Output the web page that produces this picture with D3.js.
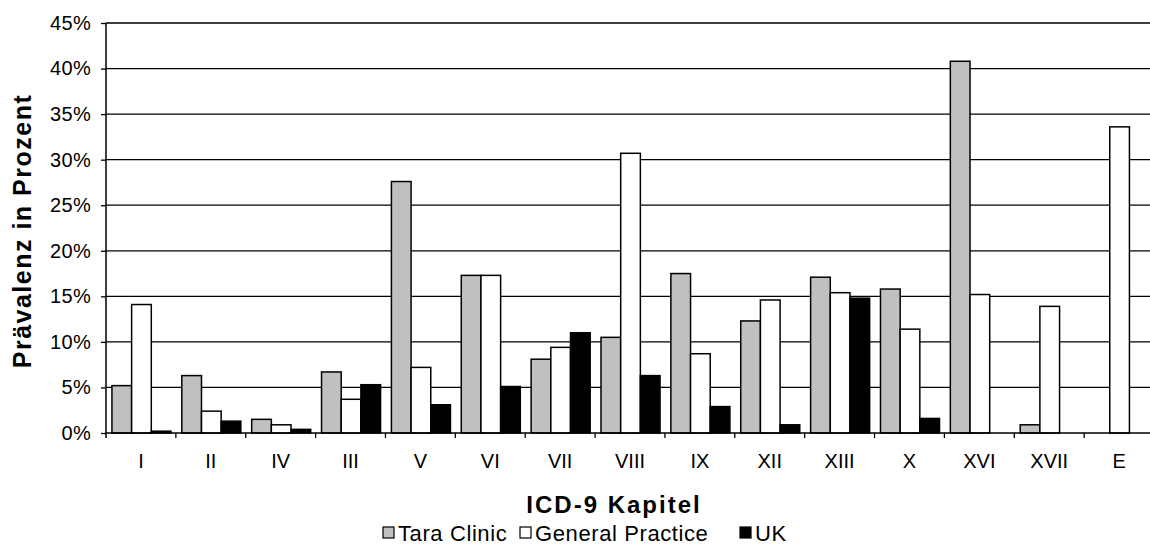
<!DOCTYPE html>
<html>
<head>
<meta charset="utf-8">
<script src="https://cdn.jsdelivr.net/npm/d3@7"></script>
<style>
  body { margin: 0; background: #fff; }
  svg text { font-family: "Liberation Sans", Arial, sans-serif; fill: #000; }
</style>
</head>
<body>
<div id="chart"></div>
<script>
// ICD-9 chapters in the order shown
var chapters = ["I", "II", "IV", "III", "V", "VI", "VII", "VIII", "IX", "XII", "XIII", "X", "XVI", "XVII", "E"];
// prevalence in percent
var taraClinic = [5.2, 6.3, 1.5, 6.7, 27.6, 17.3, 8.1, 10.5, 17.5, 12.3, 17.1, 15.8, 40.8, 0.9, 0];
var generalPractice = [14.1, 2.4, 0.9, 3.7, 7.2, 17.3, 9.4, 30.7, 8.7, 14.6, 15.4, 11.4, 15.2, 13.9, 33.6];
var uk = [0.2, 1.3, 0.4, 5.3, 3.1, 5.1, 11.0, 6.3, 2.9, 0.9, 14.8, 1.6, 0, 0, 0];
var seriesNames = ["Tara Clinic", "General Practice", "UK"];
var seriesFill = ["#c0c0c0", "#ffffff", "#000000"];
var yTicks = [0, 5, 10, 15, 20, 25, 30, 35, 40, 45];

function draw() {
    var w = 1150, h = 546;
    var left = 106, right = 1154, top = 23, bottom = 433;

    var svg = d3.select("#chart").append("svg")
                .attr("width", w)
                .attr("height", h);

    var x = d3.scaleBand().domain(chapters).range([left, right]).padding(0);
    var bw = x.bandwidth();
    var x1 = d3.scaleBand().domain(seriesNames).range([bw * 0.085, bw * 0.93]).padding(0);
    var y = d3.scaleLinear().domain([0, 45]).range([bottom, top]);

    // horizontal gridlines
    svg.append("g").selectAll("line")
       .data(yTicks.filter(function(d) { return d > 0; }))
       .enter().append("line")
       .attr("x1", left).attr("x2", right)
       .attr("y1", function(d) { return y(d); })
       .attr("y2", function(d) { return y(d); })
       .attr("stroke", "#000").attr("stroke-width", 1.3);

    // bars
    var rows = chapters.map(function(c, i) {
        return { chapter: c, values: [taraClinic[i], generalPractice[i], uk[i]] };
    });
    var groups = svg.append("g").selectAll("g")
        .data(rows).enter().append("g")
        .attr("transform", function(d) { return "translate(" + x(d.chapter) + ",0)"; });
    groups.selectAll("rect")
        .data(function(d) {
            return d.values
                .map(function(v, j) { return { name: seriesNames[j], value: v, j: j }; })
                .filter(function(e) { return e.value > 0; });
        })
        .enter().append("rect")
        .attr("x", function(d) { return x1(d.name); })
        .attr("width", x1.bandwidth())
        .attr("y", function(d) { return y(d.value); })
        .attr("height", function(d) { return bottom - y(d.value); })
        .attr("fill", function(d) { return seriesFill[d.j]; })
        .attr("stroke", "#000").attr("stroke-width", 1.5);

    // y axis
    var yAxis = svg.append("g")
        .attr("transform", "translate(" + left + ",0)")
        .call(d3.axisLeft(y).tickValues(yTicks).tickSize(5).tickPadding(10)
              .tickFormat(function(d) { return d + "%"; }));
    yAxis.select(".domain").remove();
    yAxis.selectAll("line").attr("stroke", "#000").attr("stroke-width", 1.3);
    yAxis.selectAll("text").style("font-size", "20px").style("letter-spacing", "0.3px");
    svg.append("line")
       .attr("x1", left).attr("x2", left)
       .attr("y1", top).attr("y2", bottom + 5)
       .attr("stroke", "#000").attr("stroke-width", 1.5);

    // x axis
    var xAxis = svg.append("g")
        .attr("transform", "translate(0," + bottom + ")")
        .call(d3.axisBottom(x).tickSize(0).tickPadding(21));
    xAxis.select(".domain").remove();
    xAxis.selectAll("text").style("font-size", "20px");
    svg.append("line")
       .attr("x1", left).attr("x2", right)
       .attr("y1", bottom).attr("y2", bottom)
       .attr("stroke", "#000").attr("stroke-width", 1.5);
    // tick marks between categories
    svg.append("g").selectAll("line")
       .data(chapters.slice(1))
       .enter().append("line")
       .attr("x1", function(d) { return x(d); })
       .attr("x2", function(d) { return x(d); })
       .attr("y1", bottom).attr("y2", bottom + 5)
       .attr("stroke", "#000").attr("stroke-width", 1.3);

    // axis titles
    svg.append("text")
       .attr("transform", "translate(31,231) rotate(-90)")
       .attr("text-anchor", "middle")
       .style("font-size", "25px").style("font-weight", "bold")
       .style("letter-spacing", "1.5px")
       .text("Prävalenz in Prozent");

    svg.append("text")
       .attr("x", 614).attr("y", 513)
       .attr("text-anchor", "middle")
       .style("font-size", "24px").style("font-weight", "bold")
       .style("letter-spacing", "2px")
       .text("ICD-9 Kapitel");

    // legend
    var legendX = [383, 520, 740];
    var legend = svg.append("g").selectAll("g")
        .data(seriesNames).enter().append("g")
        .attr("transform", function(d, i) { return "translate(" + legendX[i] + ",0)"; });
    legend.append("rect")
        .attr("x", 0).attr("y", 527)
        .attr("width", 11).attr("height", 11)
        .attr("fill", function(d, i) { return seriesFill[i]; })
        .attr("stroke", "#000").attr("stroke-width", 1.2);
    legend.append("text")
        .attr("x", 15).attr("y", 541)
        .style("font-size", "22px")
        .style("letter-spacing", "0.6px")
        .text(function(d) { return d; });
}

window.onload = draw;
</script>
</body>
</html>
